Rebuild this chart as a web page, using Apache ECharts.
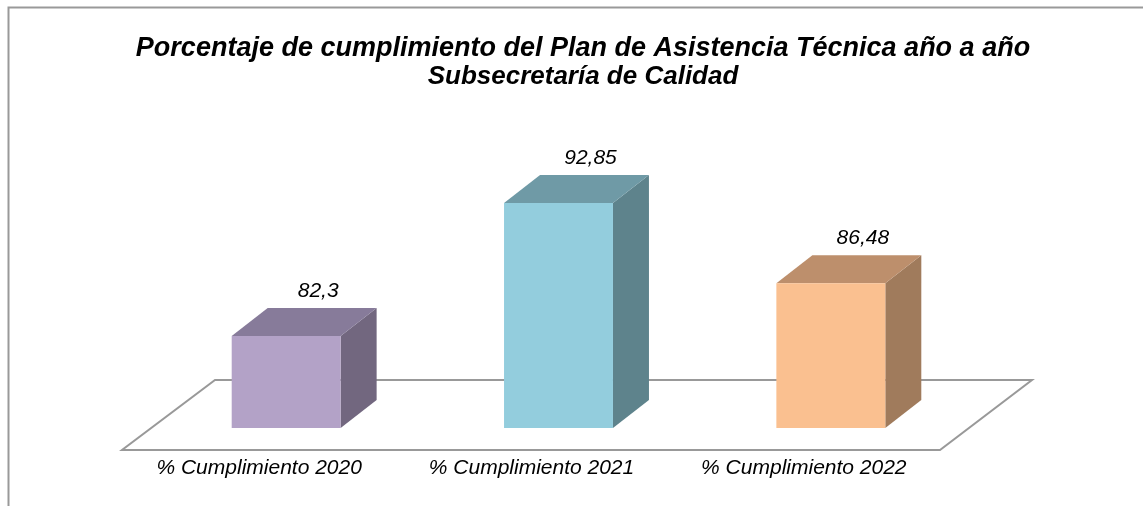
<!DOCTYPE html>
<html>
<head>
<meta charset="utf-8">
<script src="https://cdn.jsdelivr.net/npm/echarts@6/dist/echarts.min.js"></script>
<style>
  html, body { margin: 0; padding: 0; background: #fff; }
  #chart { width: 1143px; height: 506px; }
</style>
</head>
<body>
<div id="chart"></div>
<script>
// datos del gráfico
const categories = ['% Cumplimiento 2020', '% Cumplimiento 2021', '% Cumplimiento 2022'];
const values = [82.3, 92.85, 86.48];
const valueLabels = ['82,3', '92,85', '86,48'];
const yMin = 75;
const yMax = 95;

// colores de cara frontal / superior / lateral
const frontColors = ['#B3A2C7', '#93CDDD', '#FAC090'];
const topColors = ['#877B9A', '#6F9AA6', '#BD8F6C'];
const sideColors = ['#72677F', '#5E838C', '#A07B5C'];

const FONT = "'Liberation Sans', Arial, sans-serif";
const DX = 36, DY = -28; // profundidad de las barras

let chart = echarts.init(document.getElementById('chart'));

// barra 3D dibujada con custom series
const renderBar = (params, api) => {
  const idx = api.value(0);
  const base = api.coord([idx, yMin]);
  const top = api.coord([idx, api.value(1)]);
  const w = api.size([1, 0])[0] * 0.4;
  const x0 = base[0] - w / 2, x1 = base[0] + w / 2;
  const yb = base[1], yt = top[1];
  return {
    type: 'group',
    children: [
      { type: 'polygon', shape: { points: [[x1, yb], [x1 + DX, yb + DY], [x1 + DX, yt + DY], [x1, yt]] },
        style: { fill: sideColors[idx] } },
      { type: 'polygon', shape: { points: [[x0, yt], [x1, yt], [x1 + DX, yt + DY], [x0 + DX, yt + DY]] },
        style: { fill: topColors[idx] } },
      { type: 'rect', shape: { x: x0, y: yt, width: w, height: yb - yt },
        style: { fill: frontColors[idx] } },
      { type: 'text', x: base[0] + 32, y: yt + DY - 17,
        style: { text: valueLabels[idx], font: 'italic 21px ' + FONT, fill: '#000', align: 'center', verticalAlign: 'middle' } }
    ]
  };
};

// piso del gráfico
const renderFloor = (params, api) => {
  const cs = params.coordSys;
  const yb = api.coord([0, yMin])[1];
  const l = cs.x, r = cs.x + cs.width;
  const yf = yb + 22, yk = yb - 48;
  return {
    type: 'polygon',
    shape: { points: [[l - 28, yf], [r - 27, yf], [r + 65, yk], [l + 65, yk]] },
    style: { fill: '#fff', stroke: '#999', lineWidth: 2 }
  };
};

chart.setOption({
  animation: false,
  backgroundColor: '#fff',
  title: {
    text: '{a|Porcentaje de cumplimiento del Plan de Asistencia Técnica año a año}\n{b|Subsecretaría de Calidad}',
    left: 578,
    top: 30,
    textAlign: 'center',
    textStyle: {
      rich: {
        a: { fontFamily: FONT, fontSize: 27, fontWeight: 'bold', fontStyle: 'italic', color: '#000', lineHeight: 28, align: 'center' },
        b: { fontFamily: FONT, fontSize: 26, fontWeight: 'bold', fontStyle: 'italic', color: '#000', lineHeight: 28, align: 'center' }
      }
    }
  },
  graphic: [
    { type: 'rect', shape: { x: 8.5, y: 7.5, width: 1300, height: 700 },
      style: { fill: 'none', stroke: '#999', lineWidth: 2 }, z: -1 }
  ],
  grid: { left: 150, right: 176, top: 176, bottom: 78 },
  xAxis: {
    type: 'category',
    data: categories,
    axisLine: { show: false },
    axisTick: { show: false },
    axisLabel: { margin: 30, padding: [0, 54, 0, 0], fontFamily: FONT, fontSize: 21, fontStyle: 'italic', color: '#000' }
  },
  yAxis: { type: 'value', min: yMin, max: yMax, show: false, splitLine: { show: false } },
  series: [
    { type: 'custom', renderItem: renderFloor, data: [[0, yMin]], z: 1, silent: true },
    { type: 'custom', renderItem: renderBar, data: values.map((v, i) => [i, v]), z: 2 }
  ]
});
</script>
</body>
</html>
